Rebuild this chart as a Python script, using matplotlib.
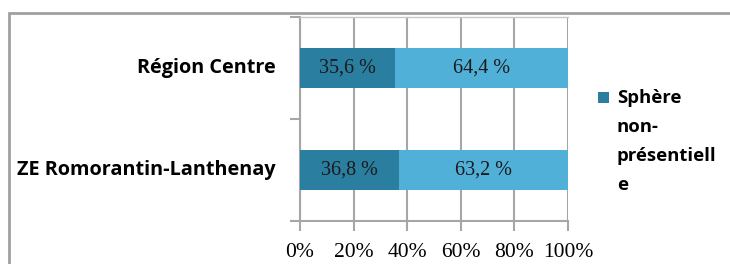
import matplotlib.pyplot as plt
from matplotlib.patches import Rectangle

# data
categories = ["ZE Romorantin-Lanthenay", "Région Centre"]
non_presentielle = [36.8, 35.6]
presentielle = [63.2, 64.4]
x_ticks = [0, 20, 40, 60, 80, 100]
legend_label = ["Sphère", "non-", "présentiell", "e"]

dark = "#2A7EA0"
light = "#50B0D8"
grid = "#A6A6A6"

fig = plt.figure(figsize=(7.3, 2.64), dpi=100)
W, H = 730.0, 264.0
ax = fig.add_axes([300 / W, 1 - 221 / H, 268 / W, 204 / H])

ypos = list(range(len(categories)))
ax.barh(ypos, non_presentielle, height=0.4, color=dark, zorder=3)
ax.barh(ypos, presentielle, left=non_presentielle, height=0.4, color=light, zorder=3)

def fmt(v):
    return ("%.1f %%" % v).replace(".", ",")

for i in ypos:
    ax.text(non_presentielle[i] / 2, i, fmt(non_presentielle[i]), ha="center", va="center",
            family="Liberation Serif", fontsize=14.5, color="#1a1a1a", zorder=4)
    ax.text(non_presentielle[i] + presentielle[i] / 2, i, fmt(presentielle[i]), ha="center",
            va="center", family="Liberation Serif", fontsize=14.5, color="#1a1a1a", zorder=4)
    ax.text(-24 / 268 * 100, i, categories[i], ha="right", va="center",
            family="Open Sans", fontweight="bold", fontsize=14.3, color="black")

ax.set_xlim(0, 100)
ax.set_ylim(-0.5, len(categories) - 0.5)
ax.set_xticks(x_ticks)
ax.set_xticklabels(["%d%%" % t for t in x_ticks], family="Liberation Serif", fontsize=15.5)
ax.set_yticks([-0.5, 0.5, 1.5])
ax.set_yticklabels([])
ax.tick_params(axis="both", color=grid, width=1.5, length=7)
ax.tick_params(axis="x", pad=9)
ax.grid(axis="x", color=grid, lw=1.5, zorder=0)

for s in ["left", "bottom"]:
    ax.spines[s].set_color(grid)
    ax.spines[s].set_linewidth(1.5)
ax.spines["right"].set_visible(False)
ax.spines["top"].set_color("#C8C8C8")
ax.spines["top"].set_linewidth(1)

# outer chart frame (cut by the image edges)
fig.patches.append(Rectangle((9 / W, -0.2), 1.2, 1 - 13 / H + 0.2, transform=fig.transFigure,
                             fill=False, edgecolor="#A0A0A0", lw=2, clip_on=False))

# legend, drawn by hand so the square sits on the first line
fig.patches.append(Rectangle((598 / W, 1 - 103 / H), 11 / W, 11 / H, transform=fig.transFigure,
                             facecolor=dark, edgecolor="none"))
for k, line in enumerate(legend_label):
    fig.text(617 / W, 1 - (98 + 29 * k) / H, line, ha="left", va="center",
             family="Open Sans", fontweight="bold", fontsize=13.3, color="black")

fig.savefig("out.png", dpi=100)
